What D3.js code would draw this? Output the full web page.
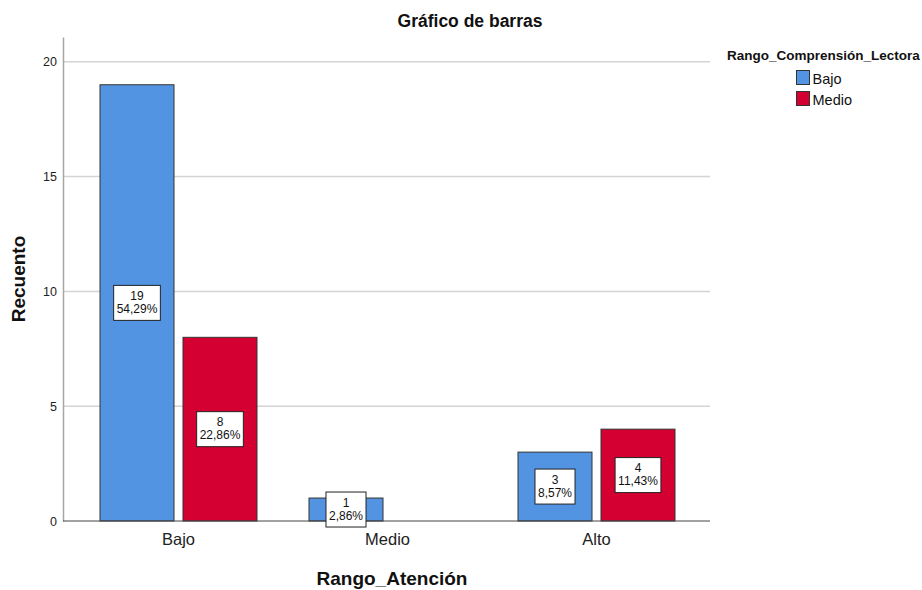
<!DOCTYPE html>
<html><head><meta charset="utf-8">
<script src="https://cdn.jsdelivr.net/npm/d3@7"></script>
<style>body{margin:0;background:#fff}text{font-family:"Liberation Sans",Arial,sans-serif}</style>
</head><body><svg id="c" width="922" height="590"></svg>
<script>
const categories = ["Bajo", "Medio", "Alto"];
const series = ["Bajo", "Medio"];
const bajoValues = [19, 1, 3];
const medioValues = [8, 0, 4];
const bajoPct = ["54,29%", "2,86%", "8,57%"];
const medioPct = ["22,86%", "", "11,43%"];
const yTicks = [0, 5, 10, 15, 20];
const colors = ["#5294e2", "#d50032"];

const svg = d3.select("#c");
const y = d3.scaleLinear().domain([0, 21.08]).range([521, 37]);
const x0 = d3.scaleBand().domain(categories).range([74, 701]).padding(0);
const x1 = d3.scaleBand().domain(series).range([26, 183]).paddingInner(0.1084).paddingOuter(0);

// gridlines
svg.append("g").selectAll("line").data(yTicks.filter(d => d > 0)).join("line")
  .attr("x1", 63).attr("x2", 710).attr("y1", d => y(d)).attr("y2", d => y(d))
  .attr("stroke", "#d4d4d4").attr("stroke-width", 1.5);

// y axis
const yAxis = d3.axisLeft(y).tickValues(yTicks).tickSize(0).tickPadding(6);
const gy = svg.append("g").attr("transform", "translate(63,0)").call(yAxis);
gy.select(".domain").attr("stroke", "#a6a6a6").attr("stroke-width", 1.5);
gy.selectAll("text").attr("font-size", 12.5).attr("fill", "#222").style("font-family", "'Liberation Sans',Arial,sans-serif");

// bars
const data = [];
categories.forEach((c, i) => {
  data.push({cat: c, s: series[0], v: bajoValues[i], p: bajoPct[i], col: colors[0]});
  data.push({cat: c, s: series[1], v: medioValues[i], p: medioPct[i], col: colors[1]});
});
const bars = data.filter(d => d.v > 0);
svg.append("g").selectAll("rect").data(bars).join("rect")
  .attr("x", d => x0(d.cat) + x1(d.s))
  .attr("width", x1.bandwidth())
  .attr("y", d => y(d.v))
  .attr("height", d => y(0) - y(d.v))
  .attr("fill", d => d.col).attr("stroke", "#333").attr("stroke-width", 1);

// x axis
const xAxis = d3.axisBottom(x0).tickSize(0).tickPadding(12);
const gx = svg.append("g").attr("transform", "translate(0,521)").call(xAxis);
gx.select(".domain").remove();
svg.append("line").attr("x1", 63).attr("x2", 710).attr("y1", 521).attr("y2", 521).attr("stroke", "#444").attr("stroke-width", 1);
gx.selectAll("text").attr("font-size", 16.5).attr("fill", "#222").style("font-family", "'Liberation Sans',Arial,sans-serif");

// labels
const lg = svg.append("g").selectAll("g").data(bars).join("g")
  .attr("transform", d => `translate(${x0(d.cat) + x1(d.s) + x1.bandwidth() / 2},${(y(d.v) + y(0)) / 2})`);
lg.each(function(d) {
  const g = d3.select(this);
  const rect = g.append("rect").attr("fill", "#fff").attr("stroke", "#222").attr("stroke-width", 1);
  const t1 = g.append("text").attr("text-anchor", "middle").attr("y", -3).attr("font-size", 12).attr("fill", "#111").text(d.v);
  const t2 = g.append("text").attr("text-anchor", "middle").attr("y", 10).attr("font-size", 12).attr("fill", "#111").text(d.p);
  const w = Math.max(t1.node().getComputedTextLength(), t2.node().getComputedTextLength()) + 6;
  rect.attr("x", -w / 2).attr("y", -17.5).attr("width", w).attr("height", 35);
});

// titles
svg.append("text").attr("x", 470).attr("y", 27).attr("text-anchor", "middle").attr("font-size", 17.5).attr("font-weight", "bold").attr("fill", "#111").text("Gráfico de barras");
svg.append("text").attr("transform", "translate(25,279) rotate(-90)").attr("text-anchor", "middle").attr("font-size", 19).attr("font-weight", "bold").attr("fill", "#111").text("Recuento");
svg.append("text").attr("x", 392).attr("y", 585).attr("text-anchor", "middle").attr("font-size", 19).attr("font-weight", "bold").attr("fill", "#111").text("Rango_Atención");

// legend
svg.append("text").attr("x", 727).attr("y", 60).attr("font-size", 13.5).attr("font-weight", "bold").attr("fill", "#111").text("Rango_Comprensión_Lectora");
const leg = svg.append("g").selectAll("g").data(series).join("g")
  .attr("transform", (d, i) => `translate(796.5,${70.5 + i * 21})`);
leg.append("rect").attr("width", 13).attr("height", 14).attr("fill", (d, i) => colors[i]).attr("stroke", "#333");
leg.append("text").attr("x", 16).attr("y", 13).attr("font-size", 14.5).attr("fill", "#111").text(d => d);
</script></body></html>
